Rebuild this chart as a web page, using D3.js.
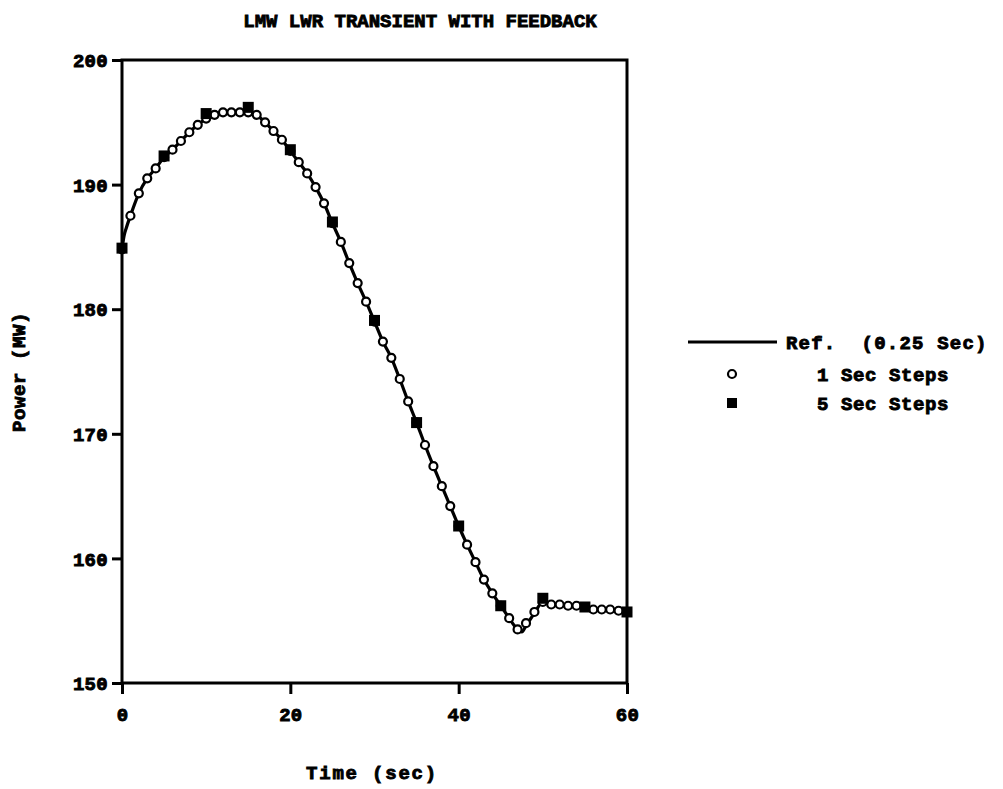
<!DOCTYPE html>
<html>
<head>
<meta charset="utf-8">
<script src="https://cdn.jsdelivr.net/npm/d3@7"></script>
<style>
  body { margin: 0; background: #fff; }
  text { font-family: "Liberation Mono", "DejaVu Sans Mono", monospace; font-weight: bold; fill: #000; stroke: #000; stroke-width: 0.9px; }
</style>
</head>
<body>
<div id="chart"></div>
<script>
// Reference solution, 0.25 sec steps
var refTime = [0, 0.25, 0.5, 1, 2, 3, 4, 5, 6, 7, 8, 9, 10, 11, 12, 13, 14, 15, 16, 17, 18, 19, 20,
  21, 22, 23, 24, 25, 26, 27, 28, 29, 30, 31, 32, 33, 34, 35, 36, 37, 38, 39, 40,
  41, 42, 43, 44, 45, 46, 47, 47.5, 48, 49, 50, 51, 52, 53, 54, 55, 56, 57, 58, 59, 60];
var refPower = [184.8, 185.9, 186.5, 187.5, 189.3, 190.5, 191.3, 192.2, 192.8, 193.5, 194.2, 194.8, 195.3,
  195.6, 195.8, 195.9, 195.9, 195.9, 195.6, 195.0, 194.3, 193.6, 192.7,
  191.8, 190.9, 189.8, 188.5, 186.9, 185.4, 183.7, 182.1, 180.6, 179.0,
  177.4, 176.1, 174.4, 172.6, 170.9, 169.1, 167.4, 165.8, 164.2, 162.6,
  161.1, 159.7, 158.3, 157.2, 156.2, 155.2, 154.3, 154.1, 154.6, 155.6, 156.5,
  156.3, 156.3, 156.2, 156.2, 156.1, 155.9, 155.9, 155.9, 155.8, 155.7];

// 1 sec steps, t = 0..60
var oneSecPower = [184.8, 187.5, 189.3, 190.5, 191.3, 192.2, 192.8, 193.5, 194.2, 194.8,
  195.3, 195.6, 195.8, 195.8, 195.8, 195.8, 195.6, 195.0, 194.3, 193.6,
  192.7, 191.8, 190.9, 189.8, 188.5, 186.9, 185.4, 183.7, 182.1, 180.6,
  179.0, 177.4, 176.1, 174.4, 172.6, 170.9, 169.1, 167.4, 165.8, 164.2,
  162.6, 161.1, 159.7, 158.3, 157.2, 156.2, 155.2, 154.3, 154.8, 155.7,
  156.5, 156.3, 156.3, 156.2, 156.2, 156.1, 155.9, 155.9, 155.9, 155.8, 155.7];

// 5 sec steps, t = 0, 5, ..., 60
var fiveSecPower = [184.9, 192.3, 195.7, 196.2, 192.8, 187.0, 179.1, 170.9, 162.6, 156.2, 156.8, 156.1, 155.7];

var xTicks = [0, 20, 40, 60];
var yTicks = [150, 160, 170, 180, 190, 200];

var svgWidth = 1003, svgHeight = 789;
var margin = { top: 60, right: 376, bottom: 106, left: 122 };
var width = svgWidth - margin.left - margin.right;
var height = svgHeight - margin.top - margin.bottom;

var svg = d3.select("#chart").append("svg")
  .attr("width", svgWidth)
  .attr("height", svgHeight);

var chartGroup = svg.append("g")
  .attr("transform", `translate(${margin.left}, ${margin.top})`);

var xScale = d3.scaleLinear().domain([0, 60]).range([0, width]);
var yScale = d3.scaleLinear().domain([150, 200]).range([height, 0]);

// axes (ticks only, the frame is drawn separately)
var bottomAxis = d3.axisBottom(xScale).tickValues(xTicks).tickSize(11).tickPadding(14).tickFormat(d3.format("d"));
var leftAxis = d3.axisLeft(yScale).tickValues(yTicks).tickSize(10).tickPadding(4).tickFormat(d3.format("d"));

var gx = chartGroup.append("g")
  .attr("transform", `translate(0, ${height})`)
  .call(bottomAxis);
var gy = chartGroup.append("g").call(leftAxis);

[gx, gy].forEach(function(g) {
  g.select(".domain").remove();
  g.selectAll("line").attr("stroke", "#000").attr("stroke-width", 3);
  g.selectAll("text").attr("font-size", 19).attr("letter-spacing", 0.3)
    .style("font-family", "'Liberation Mono', monospace");
});
gy.selectAll("text").attr("dy", "0.35em");

// frame
chartGroup.append("rect")
  .attr("x", 0).attr("y", 0)
  .attr("width", width).attr("height", height)
  .attr("fill", "none")
  .attr("stroke", "#000")
  .attr("stroke-width", 3);

// reference line
var line = d3.line()
  .x((d, i) => xScale(refTime[i]))
  .y(d => yScale(d))
  .curve(d3.curveMonotoneX);

chartGroup.append("path")
  .datum(refPower)
  .attr("d", line)
  .attr("fill", "none")
  .attr("stroke", "#000")
  .attr("stroke-width", 3.2);

// 1 sec steps
chartGroup.selectAll(".one")
  .data(oneSecPower)
  .enter()
  .append("circle")
  .attr("class", "one")
  .attr("cx", (d, i) => xScale(i))
  .attr("cy", d => yScale(d))
  .attr("r", 4)
  .attr("fill", "#fff")
  .attr("stroke", "#000")
  .attr("stroke-width", 2.2);

// 5 sec steps
var sq = 11;
chartGroup.selectAll(".five")
  .data(fiveSecPower)
  .enter()
  .append("rect")
  .attr("class", "five")
  .attr("x", (d, i) => xScale(i * 5) - sq / 2)
  .attr("y", d => yScale(d) - sq / 2)
  .attr("width", sq)
  .attr("height", sq)
  .attr("fill", "#000");

// title and axis labels
svg.append("text")
  .attr("x", 420).attr("y", 27)
  .attr("text-anchor", "middle")
  .attr("font-size", 19)
  .attr("letter-spacing", 0)
  .text("LMW LWR TRANSIENT WITH FEEDBACK");

svg.append("text")
  .attr("x", 372).attr("y", 779)
  .attr("text-anchor", "middle")
  .attr("font-size", 19)
  .attr("letter-spacing", 1.8)
  .text("Time (sec)");

svg.append("text")
  .attr("transform", "translate(25, 372) rotate(-90)")
  .attr("text-anchor", "middle")
  .attr("font-size", 19)
  .attr("letter-spacing", 0.6)
  .text("Power (MW)");

// legend
var legend = svg.append("g");
legend.append("line")
  .attr("x1", 688).attr("x2", 777)
  .attr("y1", 342).attr("y2", 342)
  .attr("stroke", "#000").attr("stroke-width", 3);
legend.append("text")
  .attr("x", 786).attr("y", 342).attr("dy", "0.35em")
  .attr("font-size", 19).attr("letter-spacing", 1.2)
  .style("white-space", "pre")
  .text("Ref.  (0.25 Sec)");
legend.append("circle")
  .attr("cx", 732).attr("cy", 374).attr("r", 4)
  .attr("fill", "#fff").attr("stroke", "#000").attr("stroke-width", 2.2);
legend.append("text")
  .attr("x", 817).attr("y", 374).attr("dy", "0.35em")
  .attr("font-size", 19).attr("letter-spacing", 0.6)
  .style("white-space", "pre")
  .text("1 Sec Steps");
legend.append("rect")
  .attr("x", 727).attr("y", 398).attr("width", 10).attr("height", 10)
  .attr("fill", "#000");
legend.append("text")
  .attr("x", 817).attr("y", 403).attr("dy", "0.35em")
  .attr("font-size", 19).attr("letter-spacing", 0.6)
  .style("white-space", "pre")
  .text("5 Sec Steps");
</script>
</body>
</html>
